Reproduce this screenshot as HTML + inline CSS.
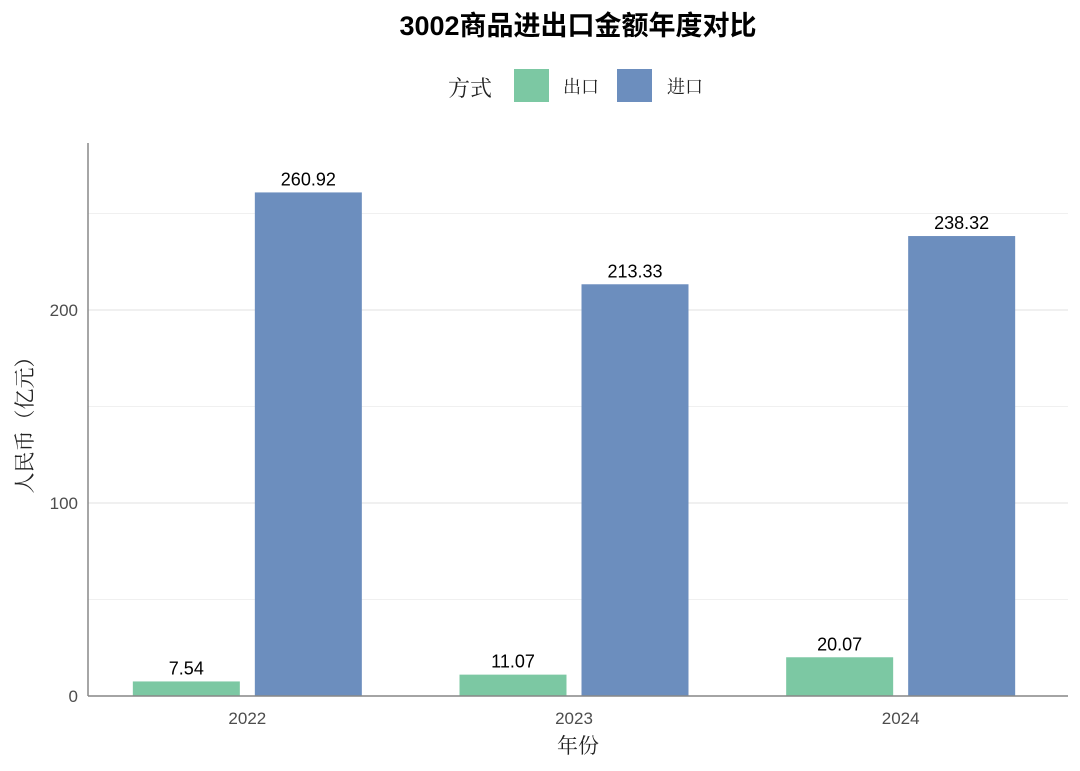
<!DOCTYPE html>
<html><head><meta charset="utf-8"><style>
body{margin:0;background:#fff;}
svg{display:block;}
</style></head><body>
<svg id="chart" width="1080" height="771" xmlns="http://www.w3.org/2000/svg">
<text x="578" y="35" text-anchor="middle" font-family="Liberation Sans, Noto Sans CJK SC, sans-serif" font-weight="bold" font-size="27" fill="#000">3002商品进出口金额年度对比</text>
<g>
<text x="448" y="96" font-family="Liberation Serif, Noto Serif CJK SC, serif" font-size="22" fill="#222">方式</text>
<rect x="514" y="69" width="35" height="33" fill="#7cc8a3"/>
<text x="563" y="93" font-family="Liberation Serif, Noto Serif CJK SC, serif" font-size="18" fill="#222">出口</text>
<rect x="617" y="69" width="35" height="33" fill="#6c8ebe"/>
<text x="667" y="93" font-family="Liberation Serif, Noto Serif CJK SC, serif" font-size="18" fill="#222">进口</text>
</g>
<g id="grid"></g><g id="bars"></g><g id="axes"></g>
<text x="578" y="753" text-anchor="middle" font-family="Liberation Serif, Noto Serif CJK SC, serif" font-size="21" fill="#222">年份</text>
<text transform="translate(32,420) rotate(-90)" text-anchor="middle" font-family="Liberation Serif, Noto Serif CJK SC, serif" font-size="21" fill="#222">人民币（亿元）</text>
</svg>
<script>
const categories = ["2022","2023","2024"];
const exportValues = [7.54, 11.07, 20.07];
const importValues = [260.92, 213.33, 238.32];
const yTicks = [0, 100, 200];
const yMinorTicks = [50, 150, 250];

const NS="http://www.w3.org/2000/svg";
const plotLeft=88,plotRight=1068,plotTop=143,baseY=696,pxPer=1.93;
const band=(plotRight-plotLeft)/categories.length;
const barW=107,gap=15;
function yScale(v){return baseY-v*pxPer;}
function xc(i){return plotLeft+band*(i+0.5)-4;}
function mk(tag,attrs,parent){const e=document.createElementNS(NS,tag);for(const k in attrs)e.setAttribute(k,attrs[k]);parent.appendChild(e);return e;}
const gGrid=document.getElementById('grid'),gBars=document.getElementById('bars'),gAxes=document.getElementById('axes');
yMinorTicks.forEach(t=>{const l=mk('line',{x1:plotLeft,x2:plotRight,y1:yScale(t),y2:yScale(t),stroke:'#f0f0f0','stroke-width':1},gGrid);

});
yTicks.forEach(t=>{const l=mk('line',{x1:plotLeft,x2:plotRight,y1:yScale(t),y2:yScale(t),stroke:'#e6e6e6','stroke-width':1.2},gGrid);


const tx=mk('text',{x:plotLeft-10,y:yScale(t)+6,'text-anchor':'end','font-family':'Liberation Sans, sans-serif','font-size':17,fill:'#4d4d4d'},gAxes);
tx.textContent=t;

});
function label(x,v){const t=mk('text',{x:x,y:yScale(v)-7,'text-anchor':'middle','font-family':'Liberation Sans, sans-serif','font-size':18,fill:'#000'},gBars);
t.textContent=v.toFixed(2);

}
categories.forEach((c,i)=>{
const cx=xc(i);
const ex=cx-gap/2-barW, ix=cx+gap/2;
const b1=mk('rect',{x:ex,y:yScale(exportValues[i]),width:barW,height:exportValues[i]*pxPer,fill:'#7cc8a3'},gBars);


const b2=mk('rect',{x:ix,y:yScale(importValues[i]),width:barW,height:importValues[i]*pxPer,fill:'#6c8ebe'},gBars);


label(ex+barW/2,exportValues[i]);label(ix+barW/2,importValues[i]);
const tx=mk('text',{x:cx,y:724,'text-anchor':'middle','font-family':'Liberation Sans, sans-serif','font-size':17,fill:'#4d4d4d'},gAxes);
tx.textContent=c;


});
const ya=mk('line',{x1:plotLeft,x2:plotLeft,y1:plotTop,y2:baseY,stroke:'#888','stroke-width':1.5},gAxes);


const xa=mk('line',{x1:plotLeft,x2:plotRight,y1:baseY,y2:baseY,stroke:'#888','stroke-width':1.5},gAxes);


</script>
</body></html>
